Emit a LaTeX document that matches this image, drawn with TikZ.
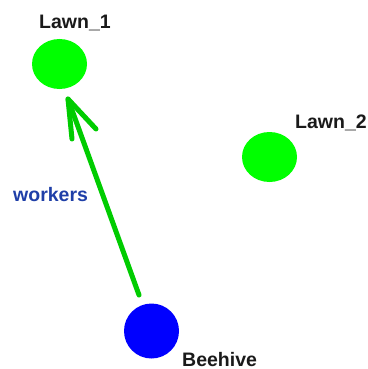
\documentclass[tikz,border=0pt]{standalone}
\usepackage{fontspec}
\setmainfont{Liberation Sans}
\usetikzlibrary{shapes.geometric}
\definecolor{lawngreen}{HTML}{00FF00}
\definecolor{arrowgreen}{HTML}{00CC00}
\definecolor{hiveblue}{HTML}{0000FF}
\definecolor{labelblack}{HTML}{1A1A1A}
\definecolor{workblue}{HTML}{1F3FA8}
\begin{document}
\begin{tikzpicture}[x=1pt,y=-1pt,
  lawn/.style={ellipse, fill=lawngreen, draw=none, minimum width=55pt, minimum height=50pt, inner sep=0pt},
  hive/.style={circle, fill=hiveblue, draw=none, minimum size=55pt, inner sep=0pt},
  lbl/.style={font=\fontsize{19.5}{23}\selectfont\bfseries, text=labelblack, inner sep=0pt},
  arr/.style={draw=arrowgreen, line width=5pt, line cap=round, line join=round}]
\useasboundingbox (0,0) rectangle (367,369);
\fill[white] (0,0) rectangle (367,369);
\node[lawn] (lawn1) at (59.5,64) {};
\node[lawn] (lawn2) at (269.5,157) {};
\node[hive] (hive) at (151.5,331) {};
\node[lbl, anchor=base] (l1) at (75,29) {Lawn\_1};
\node[lbl, anchor=base west] (l2) at (295,128) {Lawn\_2};
\node[lbl, anchor=base west] (bh) at (182,366) {Beehive};
\node[lbl, anchor=base west, text=workblue] (wk) at (13,201) {workers};
\coordinate (tail) at (139,295);
\coordinate (tip) at (68,99);
\coordinate (barbL) at (72,139);
\coordinate (barbR) at (96,129);
\draw[arr] (tail) -- (tip);
\draw[arr] (barbL) -- (tip) -- (barbR);
\end{tikzpicture}
\end{document}
